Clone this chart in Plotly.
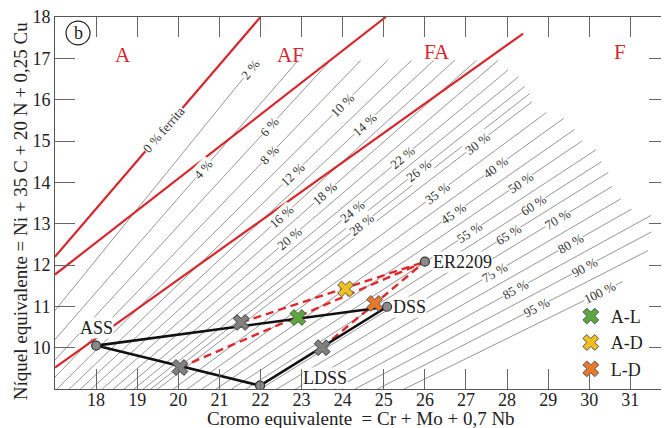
import math
import plotly.graph_objects as go

# ---------------- data ----------------
ferrite_pct = [2, 4, 6, 8, 10, 12, 14, 16, 18, 20, 22, 24, 26, 28, 30,
               35, 40, 45, 50, 55, 60, 65, 70, 75, 80, 85, 90, 95, 100]
# Cr_eq where each iso-ferrite line meets Ni_eq = 9 (extended) and its slope
line_base_cr = [15.45, 15.95, 16.35, 16.72, 17.05, 17.35, 17.62, 17.88, 18.15, 18.42,
                18.68, 18.92, 19.15, 19.33, 19.50, 19.88, 20.22, 20.58, 20.92, 21.30,
                21.65, 22.00, 22.40, 22.85, 23.30, 23.80, 24.30, 24.85, 25.50]
line_slope = [1.226, 1.141, 1.081, 1.030, 0.989, 0.955, 0.925, 0.899, 0.873, 0.849,
              0.826, 0.807, 0.789, 0.775, 0.763, 0.737, 0.715, 0.693, 0.674, 0.653,
              0.636, 0.619, 0.601, 0.581, 0.563, 0.545, 0.527, 0.509, 0.489]
# Ni_eq at the upper end of each line
line_end_ni = [16.95, 16.95, 16.95, 16.95, 16.95, 16.95, 16.95, 16.95, 16.95, 16.95,
               16.72, 16.55, 16.32, 16.15, 15.95, 15.69, 15.55, 15.28, 15.00, 14.79,
               14.50, 14.24, 13.90, 13.60, 13.35, 13.20, 12.80, 12.35, 11.60]
# Ni_eq where each line carries its label
label_ni = [16.73, 14.31, 15.35, 14.67, 15.86, 14.19, 15.40, 13.17, 13.73, 12.64,
            14.60, 13.29, 14.29, 12.98, 14.94, 13.73, 14.36, 13.24, 14.00, 12.78,
            13.44, 12.74, 13.10, 11.82, 12.52, 11.40, 11.94, 10.97, 11.33]

# solidification-mode boundaries (red)
bound1_cr = [17.0, 22.0]
bound1_ni = [12.2, 18.0]
bound2_cr = [17.0, 25.05]
bound2_ni = [11.77, 18.0]
bound3_cr = [17.0, 28.39]
bound3_ni = [9.52, 17.6]
region_names = ["A", "AF", "FA", "F"]
region_cr = [18.66, 22.72, 26.3, 30.74]
region_ni = [17.09, 17.09, 17.16, 17.16]

# base metals / filler
mat_names = ["ASS", "LDSS", "DSS", "ER2209"]
mat_cr = [18.0, 21.99, 25.08, 26.0]
mat_ni = [10.05, 9.08, 10.99, 12.08]
# gray crosses on the base-metal joins
mix_cr = [21.53, 20.04, 23.50]
mix_ni = [10.61, 9.52, 10.0]
# welds
weld_names = ["A-L", "A-D", "L-D"]
weld_cr = [22.91, 24.07, 24.78]
weld_ni = [10.73, 11.42, 11.07]
weld_colors = ["#5aa83c", "#f0c020", "#e8782a"]

x_ticks = list(range(18, 32))
y_ticks = list(range(10, 19))

SERIF = "Liberation Serif, Times New Roman, serif"
RED = "#d6282e"

fig = go.Figure()

# grey iso-ferrite lines (lower ends clipped by the axes)
for b, s, ye in zip(line_base_cr, line_slope, line_end_ni):
    y0 = 5.0
    x0 = b + (y0 - 9.0) / s
    xe = b + (ye - 9.0) / s
    fig.add_trace(go.Scatter(x=[x0, xe], y=[y0, ye], mode="lines",
                             line=dict(color="#7a7a7a", width=0.8),
                             hoverinfo="skip", showlegend=False))

# red boundaries
for bx, by in [(bound1_cr, bound1_ni), (bound2_cr, bound2_ni), (bound3_cr, bound3_ni)]:
    fig.add_trace(go.Scatter(x=bx, y=by, mode="lines",
                             line=dict(color=RED, width=2.2),
                             hoverinfo="skip", showlegend=False))

# red dashed lines to the filler metal
for mx, my in zip(mix_cr, mix_ni):
    fig.add_trace(go.Scatter(x=[mx, mat_cr[3]], y=[my, mat_ni[3]], mode="lines",
                             line=dict(color="#e0282a", width=2.4, dash="8px,5px"),
                             hoverinfo="skip", showlegend=False))

# black triangle joining the base metals
tri_idx = [0, 2, 1, 0]
fig.add_trace(go.Scatter(x=[mat_cr[i] for i in tri_idx], y=[mat_ni[i] for i in tri_idx],
                         mode="lines", line=dict(color="#111111", width=2.6),
                         hoverinfo="skip", showlegend=False))

fig.add_trace(go.Scatter(x=mix_cr, y=mix_ni, mode="markers",
                         marker=dict(symbol="x", size=14, color="#808080",
                                     line=dict(color="#3c3c3c", width=1)),
                         hoverinfo="skip", showlegend=False))

fig.add_trace(go.Scatter(x=mat_cr, y=mat_ni, mode="markers",
                         marker=dict(symbol="circle", size=9, color="#8a8a8a",
                                     line=dict(color="#333333", width=1.2)),
                         hoverinfo="skip", showlegend=False))

for n, wx, wy, c in zip(weld_names, weld_cr, weld_ni, weld_colors):
    fig.add_trace(go.Scatter(x=[wx], y=[wy], mode="markers", name=n, legendgroup=n,
                             marker=dict(symbol="x", size=14, color=c,
                                         line=dict(color="#555555", width=1)),
                             hoverinfo="skip", showlegend=True))

ann = []
for p, b, s, ly in zip(ferrite_pct, line_base_cr, line_slope, label_ni):
    lx = b + (ly - 9.0) / s
    ang = math.degrees(math.atan(s))
    ann.append(dict(x=lx, y=ly, text=f"{p} %", showarrow=False, textangle=-ang,
                    font=dict(family=SERIF, size=13, color="#333333"),
                    bgcolor="white", borderpad=0))
ann.append(dict(x=19.65, y=15.27, text="0 % ferrita", showarrow=False,
                textangle=-49, font=dict(family=SERIF, size=13, color="#333333"),
                bgcolor="white", borderpad=0))
for n, rx, ry in zip(region_names, region_cr, region_ni):
    ann.append(dict(x=rx, y=ry, text=n, showarrow=False,
                    font=dict(family=SERIF, size=21, color=RED)))
mat_label_pos = [(18.0, 10.48, "center"), (23.02, 9.27, "left"),
                 (25.2, 10.99, "left"), (26.18, 12.08, "left")]
for n, (tx, ty, al) in zip(mat_names, mat_label_pos):
    ann.append(dict(x=tx, y=ty, text=n, showarrow=False, xanchor=al,
                    bgcolor="white", borderpad=0,
                    font=dict(family=SERIF, size=18, color="#222222")))
# panel letter
ann.append(dict(x=0.0375, y=0.957, xref="paper", yref="paper", text="b", showarrow=False,
                xanchor="center", yanchor="middle",
                font=dict(family=SERIF, size=18, color="#222222")))
# axis titles
ann.append(dict(x=0.4976, y=-0.0806, xref="paper", yref="paper", xanchor="center",
                yanchor="middle", text="Cromo equivalente  = Cr + Mo + 0,7 Nb",
                showarrow=False, font=dict(family=SERIF, size=19, color="#222222")))
ann.append(dict(x=-0.057, y=0.478, xref="paper", yref="paper", xanchor="center",
                yanchor="middle", textangle=-90,
                text="Níquel equivalente = Ni + 35 C + 20 N + 0,25 Cu", showarrow=False,
                font=dict(family=SERIF, size=19, color="#222222")))

fig.add_shape(type="circle", xref="paper", yref="paper",
              x0=0.018, x1=0.057, y0=0.925, y1=0.989,
              line=dict(color="#222222", width=1.2))

fig.update_layout(
    width=669, height=428,
    margin=dict(l=47, r=8, t=9, b=47, autoexpand=False),
    plot_bgcolor="white", paper_bgcolor="white",
    annotations=ann,
    showlegend=True,
    legend=dict(x=0.84, y=0.245, xanchor="left", yanchor="top",
                font=dict(family=SERIF, size=18, color="#222222"),
                bgcolor="rgba(0,0,0,0)", itemwidth=30, tracegroupgap=0,
                borderwidth=0),
    xaxis=dict(range=[17, 31.94], tickvals=x_ticks, ticks="inside", ticklen=20,
               tickcolor="#666666", showline=True, linecolor="#555555", mirror="ticks",
               showgrid=False, zeroline=False, automargin=False,
               ticklabeloverflow="allow", ticklabelstandoff=-6,
               tickfont=dict(family=SERIF, size=18, color="#222222")),
    yaxis=dict(range=[9, 18], tickvals=y_ticks, ticks="inside", ticklen=20,
               tickcolor="#666666", showline=True, linecolor="#555555", mirror="ticks",
               showgrid=False, zeroline=False, automargin=False,
               ticklabeloverflow="allow",
               tickfont=dict(family=SERIF, size=18, color="#222222")),
)

fig.write_html("out.html")
